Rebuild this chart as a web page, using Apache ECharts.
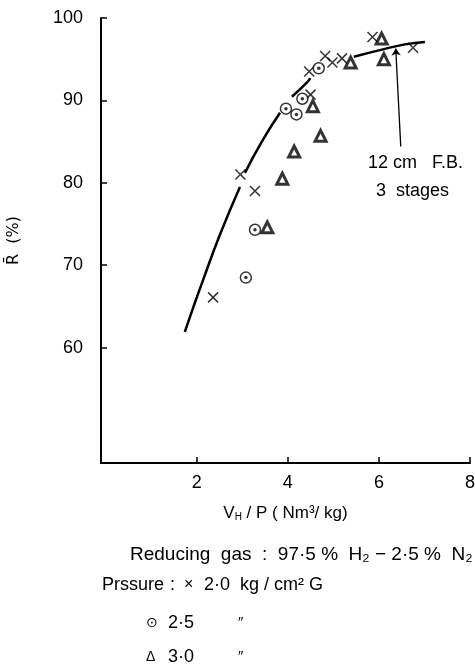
<!DOCTYPE html>
<html style="height: 100%">
<head>
<meta charset="utf-8">
</head>
<body style="height: 100%; margin: 0; background: #fff">
<div id="container" style="width: 475px; height: 669px"></div>
<script src="https://cdn.jsdelivr.net/npm/echarts@6/dist/echarts.min.js"></script>
<script>
// values
var xTicks = [2, 4, 6, 8];
var yTicks = [60, 70, 80, 90, 100];

// pressure 2.0 kg/cm2 G  (crosses)
var p20 = [
    [2.36, 66.1], [2.96, 81.0], [3.28, 79.0], [4.47, 93.5], [4.50, 90.7],
    [4.82, 95.4], [4.98, 94.6], [5.19, 95.1], [5.86, 97.7], [6.75, 96.4]
];
// pressure 2.5 (dotted circles)
var p25 = [
    [3.08, 68.5], [3.28, 74.3], [3.96, 89.0], [4.19, 88.3], [4.32, 90.2], [4.68, 93.9]
];
// pressure 3.0 (triangles)
var p30 = [
    [3.55, 74.6], [3.88, 80.5], [4.14, 83.8], [4.72, 85.7], [4.55, 89.3],
    [5.38, 94.6], [6.06, 97.5], [6.11, 95.0]
];

// fitted curve, drawn in pieces (breaks where it passes the markers)
var curveSegments = [
    [[1.74, 61.9], [1.92, 64.8], [2.14, 68.2], [2.51, 73.7], [2.95, 79.5]],
    [[3.06, 81.2], [3.43, 85.0], [3.83, 88.5]],
    [[4.09, 90.45], [4.45, 92.35], [4.49, 92.7]],
    [[5.45, 95.3], [6.02, 96.1], [6.57, 96.8], [7.01, 97.1]]
];

// arrow "12cm F.B. 3 stages" -> curve
var arrowFrom = [6.48, 84.4];
var arrowTo = [6.37, 96.3];

var FONT = '"Liberation Sans", Arial, sans-serif';

var dom = document.getElementById('container');
var myChart = echarts.init(dom);

var series = [];
curveSegments.forEach(function (seg, i) {
    var s = {
        type: 'line',
        data: seg,
        smooth: true,
        symbol: 'none',
        lineStyle: { color: '#000', width: 2.5 },
        silent: true,
        z: 1
    };
    if (i === 3) {
        s.markLine = {
            silent: true,
            symbol: ['none', 'arrow'],
            symbolSize: 7,
            label: { show: false },
            lineStyle: { color: '#000', width: 1.3, type: 'solid' },
            data: [[{ coord: arrowFrom }, { coord: arrowTo }]]
        };
    }
    series.push(s);
});

series.push({
    type: 'scatter',
    data: p20,
    symbol: 'path://M0,0L10,10M10,0L0,10',
    symbolSize: 10,
    itemStyle: { color: 'none', borderColor: '#000', borderWidth: 1.5 },
    z: 3
});
series.push({
    type: 'scatter',
    data: p25,
    symbol: 'circle',
    symbolSize: 11,
    itemStyle: { color: '#fff', borderColor: '#000', borderWidth: 1.5 },
    z: 3
});
series.push({
    type: 'scatter',
    data: p25,
    symbol: 'circle',
    symbolSize: 3.5,
    itemStyle: { color: '#000' },
    z: 4
});
series.push({
    type: 'scatter',
    data: p30,
    symbol: 'triangle',
    symbolSize: 11,
    itemStyle: { color: '#fff', borderColor: '#000', borderWidth: 3 },
    z: 3
});

function txt(x, y, s, size) {
    return {
        type: 'text', x: x, y: y,
        style: { text: s, font: (size || 18) + 'px ' + FONT, fill: '#000', verticalAlign: 'middle' }
    };
}

var option = {
    animation: false,
    backgroundColor: '#fff',
    grid: { left: 101, right: 5, top: 18, bottom: 206, outerBoundsMode: 'none' },
    xAxis: {
        type: 'value',
        min: -0.1,
        max: 8,
        name: '{a|V}{s|H} / P ( Nm³/ kg)',
        nameLocation: 'middle',
        nameGap: 42,
        nameTextStyle: {
            rich: {
                a: { fontSize: 17, fontFamily: FONT, color: '#000' },
                s: { fontSize: 10, fontFamily: FONT, color: '#000', verticalAlign: 'bottom' }
            },
            fontSize: 17, fontFamily: FONT, color: '#000'
        },
        axisLine: { lineStyle: { color: '#000', width: 2 } },
        axisTick: { inside: true, length: 6, customValues: xTicks, lineStyle: { color: '#000', width: 1.5 } },
        axisLabel: { customValues: xTicks, margin: 11, fontSize: 18, fontFamily: FONT, color: '#000' },
        splitLine: { show: false }
    },
    yAxis: {
        type: 'value',
        min: 46,
        max: 100,
        name: 'R̄  (%)',
        nameLocation: 'middle',
        nameGap: 79,
        nameTextStyle: { fontSize: 16, fontFamily: '"DejaVu Sans", sans-serif', color: '#000' },
        axisLine: { onZero: false, lineStyle: { color: '#000', width: 2 } },
        axisTick: { inside: true, length: 6, customValues: yTicks, lineStyle: { color: '#000', width: 1.5 } },
        axisLabel: { customValues: yTicks, margin: 18, fontSize: 18, fontFamily: FONT, color: '#000' },
        splitLine: { show: false }
    },
    graphic: [
        txt(368, 163, '12 cm   F.B.'),
        txt(376, 191, '3  stages'),
        txt(130, 555, 'Reducing  gas  :  97·5 %  H₂ − 2·5 %  N₂', 19),
        txt(102, 585, 'Prssure'),
        txt(170, 585, ':'),
        txt(184, 585, '×', 16),
        txt(204, 585, '2·0  kg / cm² G'),
        txt(146, 623, '⊙', 14),
        txt(168, 623, '2·5'),
        txt(238, 623, '″', 15),
        txt(146, 657, 'Δ', 14),
        txt(168, 657, '3·0'),
        txt(238, 657, '″', 15)
    ],
    series: series
};

myChart.setOption(option, true);
</script>
</body>
</html>
